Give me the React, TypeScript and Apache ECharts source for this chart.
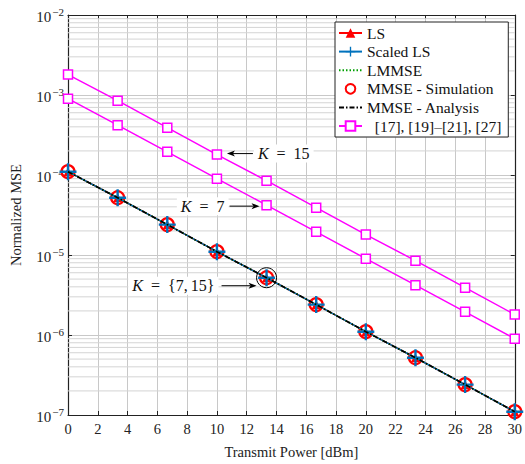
import React, { useEffect, useRef } from "react";
import * as echarts from "echarts";

const powerDbm = [0, 3.333, 6.667, 10, 13.333, 16.667, 20, 23.333, 26.667, 30];
const mseLS = [1.1e-4, 5.2e-5, 2.4e-5, 1.1e-5, 5.2e-6, 2.4e-6, 1.1e-6, 5.2e-7, 2.4e-7, 1.1e-7];
const mseScaledLS = [1.1e-4, 5.2e-5, 2.4e-5, 1.1e-5, 5.2e-6, 2.4e-6, 1.1e-6, 5.2e-7, 2.4e-7, 1.1e-7];
const mseLMMSE = [1.1e-4, 5.2e-5, 2.4e-5, 1.1e-5, 5.2e-6, 2.4e-6, 1.1e-6, 5.2e-7, 2.4e-7, 1.1e-7];
const mseMMSESim = [1.1e-4, 5.2e-5, 2.4e-5, 1.1e-5, 5.2e-6, 2.4e-6, 1.1e-6, 5.2e-7, 2.4e-7, 1.1e-7];
const mseMMSEAna = [1.1e-4, 5.2e-5, 2.4e-5, 1.1e-5, 5.2e-6, 2.4e-6, 1.1e-6, 5.2e-7, 2.4e-7, 1.1e-7];
const mseRefK15 = [1.8e-3, 8.5e-4, 3.9e-4, 1.8e-4, 8.5e-5, 3.9e-5, 1.8e-5, 8.5e-6, 3.9e-6, 1.8e-6];
const mseRefK7 = [9.0e-4, 4.2e-4, 1.95e-4, 9.0e-5, 4.2e-5, 1.95e-5, 9.0e-6, 4.2e-6, 1.95e-6, 9.0e-7];
const xTicks = [0, 2, 4, 6, 8, 10, 12, 14, 16, 18, 20, 22, 24, 26, 28, 30];
const yDecades = [-7, -6, -5, -4, -3, -2];
const minorMultipliers = [2, 3, 4, 5, 6, 7, 8, 9];

const FONT = "Liberation Serif";
const REF_NAME = "[17], [19]–[21], [27]";

const zip = (ys: number[]) => powerDbm.map((x, i) => [x, ys[i]]);

export default function App() {
  const ref = useRef<HTMLDivElement>(null);
  useEffect(() => {
    document.body.style.margin = "0";
    if (!ref.current) return;
    const chart = echarts.init(ref.current, undefined, { renderer: "svg" });

    const minorData: any[] = [];
    for (let d = yDecades[0]; d < yDecades[yDecades.length - 1]; d++) {
      for (const m of minorMultipliers) {
        const v = m * Math.pow(10, d);
        minorData.push([0, v], [30, v], [null, null]);
      }
    }
    const plusPath = "path://M8.6,0h2.8v20h-2.8z M0,8.6h20v2.8h-20z";
    const option: any = {
      animation: false,
      textStyle: { fontFamily: FONT },
      grid: { left: 67, right: 8, top: 15, bottom: 42 },
      xAxis: [
        {
          type: "value",
          min: 0,
          max: 30,
          interval: 2,
          name: "Transmit Power [dBm]",
          nameLocation: "middle",
          nameGap: 29,
          nameTextStyle: { fontFamily: FONT, fontSize: 14.5, color: "#222" },
          axisLine: { onZero: false, lineStyle: { color: "#222", width: 1.2 } },
          axisTick: { inside: true, length: 4, lineStyle: { color: "#222" } },
          axisLabel: {
            fontFamily: FONT,
            fontSize: 14.5,
            color: "#222",
            margin: 6,
            formatter: (v: number) => (xTicks.includes(v) ? String(v) : ""),
          },
          splitLine: { show: true, lineStyle: { color: "#c8c8c8", width: 1 } },
        },
        {
          type: "value",
          position: "top",
          min: 0,
          max: 30,
          interval: 2,
          axisLine: { onZero: false, lineStyle: { color: "#222", width: 1.2 } },
          axisTick: { inside: true, length: 4, lineStyle: { color: "#222" } },
          axisLabel: { show: false },
          splitLine: { show: false },
        },
      ],
      yAxis: [
        {
          type: "log",
          logBase: 10,
          min: 1e-7,
          max: 1e-2,
          name: "Normalized MSE",
          nameLocation: "middle",
          nameGap: 45,
          nameTextStyle: { fontFamily: FONT, fontSize: 14.5, color: "#222" },
          axisLine: { onZero: false, lineStyle: { color: "#222", width: 1.2 } },
          axisTick: { inside: true, length: 4, lineStyle: { color: "#222" } },
          axisLabel: {
            margin: 4,
            formatter: (v: number) => {
              const e = Math.round(Math.log10(v));
              return "{b|10}{s|−" + Math.abs(e) + "}";
            },
            rich: {
              b: { fontFamily: FONT, fontSize: 15, color: "#222", lineHeight: 18, verticalAlign: "bottom" },
              s: { fontFamily: FONT, fontSize: 11, color: "#222", lineHeight: 18, verticalAlign: "top", padding: [0, 0, 7, 1] },
            },
          },
          splitLine: { show: true, lineStyle: { color: "#c8c8c8", width: 1 } },
        },
        {
          type: "log",
          logBase: 10,
          min: 1e-7,
          max: 1e-2,
          position: "right",
          axisLine: { onZero: false, lineStyle: { color: "#222", width: 1.2 } },
          axisTick: { inside: true, length: 4, lineStyle: { color: "#222" } },
          axisLabel: { show: false },
          splitLine: { show: false },
        },
      ],
      legend: {
        left: 335,
        top: 22,
        orient: "vertical",
        backgroundColor: "#fff",
        borderColor: "#222",
        borderWidth: 1,
        borderRadius: 0,
        padding: [3, 7, 3, 3],
        itemGap: 2.6,
        itemWidth: 23,
        itemHeight: 12,
        textStyle: { fontFamily: FONT, fontSize: 15.5, color: "#111", lineHeight: 16 },
        formatter: (n: string) => (n === REF_NAME ? "  " + n : n),
        data: ["LS", "Scaled LS", "LMMSE", "MMSE - Simulation", "MMSE - Analysis", REF_NAME],
      },
      series: [
        {
          type: "line",
          name: "minor-grid",
          data: minorData,
          silent: true,
          z: 0,
          symbol: "none",
          connectNulls: false,
          lineStyle: { color: "#d4d4d4", width: 1 },
        },
        {
          type: "line",
          name: REF_NAME,
          data: zip(mseRefK15),
          z: 3,
          lineStyle: { color: "#ff00ff", width: 1.5 },
          itemStyle: { color: "#fff", borderColor: "#ff00ff", borderWidth: 1.5 },
          symbol: "rect",
          symbolSize: 9,
          showAllSymbol: true,
        },
        {
          type: "line",
          name: REF_NAME,
          data: zip(mseRefK7),
          z: 3,
          lineStyle: { color: "#ff00ff", width: 1.5 },
          itemStyle: { color: "#fff", borderColor: "#ff00ff", borderWidth: 1.5 },
          symbol: "rect",
          symbolSize: 9,
          showAllSymbol: true,
        },
        {
          type: "line",
          name: "LS",
          data: zip(mseLS),
          z: 4,
          lineStyle: { color: "#ff0000", width: 1.5 },
          itemStyle: { color: "#ff0000" },
          symbol: "triangle",
          symbolSize: 9,
          showAllSymbol: true,
        },
        {
          type: "line",
          name: "MMSE - Simulation",
          data: zip(mseMMSESim),
          z: 5,
          lineStyle: { width: 0, opacity: 0 },
          itemStyle: { color: "rgba(255,255,255,0)", borderColor: "#ff0000", borderWidth: 2.2 },
          symbol: "circle",
          symbolSize: 13,
          showAllSymbol: true,
        },
        {
          type: "line",
          name: "Scaled LS",
          data: zip(mseScaledLS),
          z: 6,
          lineStyle: { color: "#0072bd", width: 1.5 },
          itemStyle: { color: "#0072bd" },
          symbol: plusPath,
          symbolSize: 17,
          showAllSymbol: true,
        },
        {
          type: "line",
          name: "LMMSE",
          data: zip(mseLMMSE),
          z: 7,
          lineStyle: { color: "#00a000", width: 1.6, type: [1.5, 2] },
          itemStyle: { color: "rgba(0,0,0,0)" },
          symbol: "none",
        },
        {
          type: "line",
          name: "MMSE - Analysis",
          data: zip(mseMMSEAna),
          z: 8,
          lineStyle: { color: "#000", width: 1.6, type: [5, 2, 1.5, 2] },
          itemStyle: { color: "rgba(0,0,0,0)" },
          symbol: "none",
        },
      ],
    };
    chart.setOption(option);

    const px = (x: number, y: number) => chart.convertToPixel({ gridIndex: 0 } as any, [x, y]) as number[];
    const arrow = (x1: number, y1: number, x2: number, y2: number) => {
      const dir = Math.sign(x2 - x1);
      return [
        { type: "line", shape: { x1, y1, x2: x2 - dir * 6, y2 }, style: { stroke: "#000", lineWidth: 1 }, z: 20 },
        {
          type: "polygon",
          shape: { points: [[x2, y2], [x2 - dir * 8, y2 - 3], [x2 - dir * 6, y2], [x2 - dir * 8, y2 + 3]] },
          style: { fill: "#000" },
          z: 20,
        },
      ];
    };
    const label = (x: number, y: number, rest: string, align: string) => ({
      type: "text",
      x,
      y,
      z: 21,
      style: {
        text: "{k|K}\u2002=\u2002" + rest,
        rich: { k: { fontFamily: FONT, fontStyle: "italic", fontSize: 16, fill: "#111" } },
        fontFamily: FONT,
        fontSize: 16,
        fill: "#111",
        align,
        verticalAlign: "middle",
        backgroundColor: "#fff",
        padding: [1, 4, 1, 4],
      },
    });
    const p15 = px(powerDbm[3], mseRefK15[3]);
    const p7 = px(powerDbm[4], mseRefK7[4]);
    const pm = px(powerDbm[4], mseMMSEAna[4]);
    const graphic: any[] = [
      ...arrow(p15[0] + 36, p15[1] - 1, p15[0] + 10, p15[1] - 1),
      label(p15[0] + 37, p15[1] - 1, "15", "left"),
      ...arrow(p7[0] - 37, p7[1] + 1, p7[0] - 7, p7[1] + 1),
      label(p7[0] - 38, p7[1] + 1, "7", "right"),
      {
        type: "circle",
        shape: { cx: pm[0], cy: pm[1], r: 10 },
        style: { fill: "none", stroke: "#000", lineWidth: 1 },
        z: 20,
      },
      ...arrow(pm[0] - 45, pm[1] + 8, pm[0] - 10, pm[1] + 8),
      label(pm[0] - 48, pm[1] + 8, "{7,\u200915}", "right"),
    ];
    chart.setOption({ graphic });
    return () => chart.dispose();
  }, []);
  return <div ref={ref} style={{ width: 525, height: 464 }} />;
}
